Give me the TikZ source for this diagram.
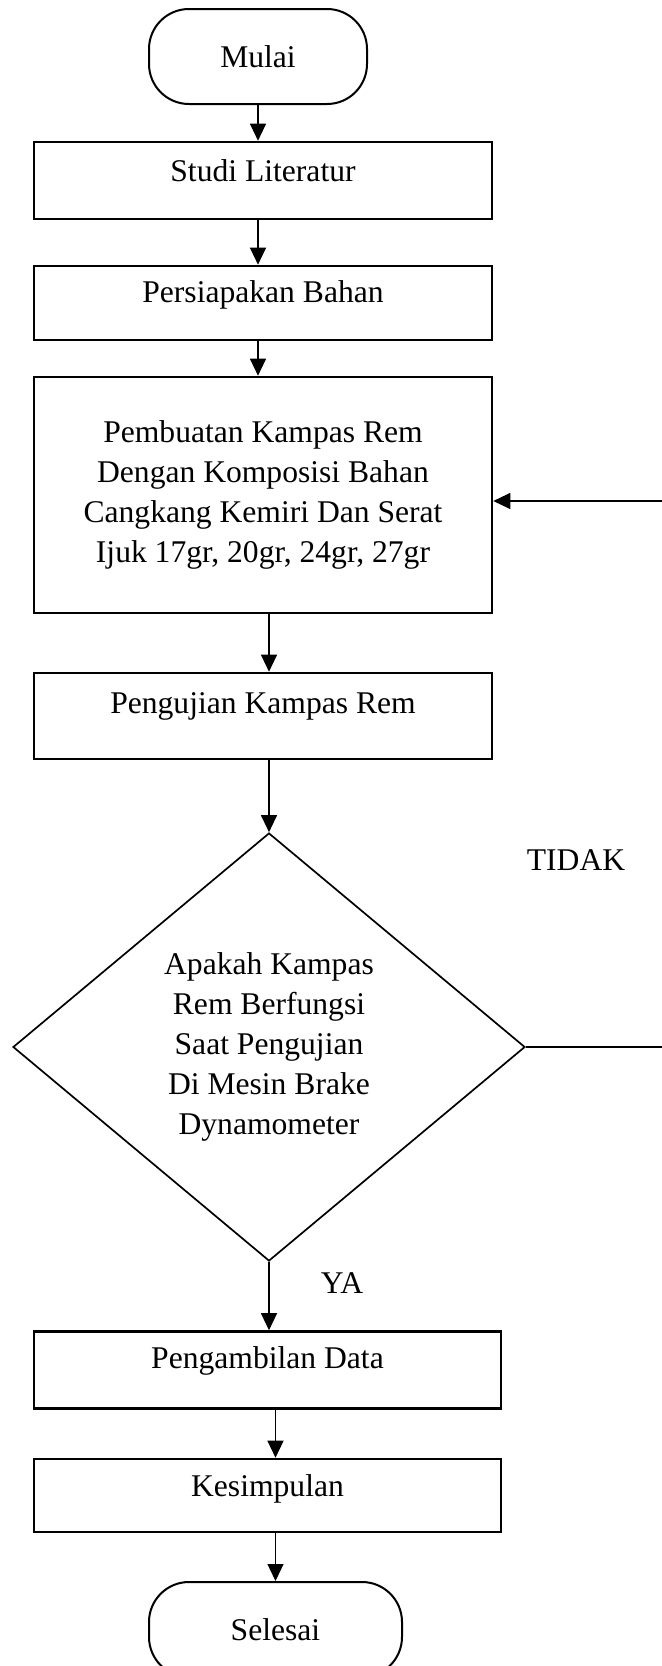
\documentclass[tikz,border=0pt]{standalone}
\usepackage{fontspec}
\setmainfont{Liberation Serif}
\usetikzlibrary{shapes.geometric,arrows.meta}

\begin{document}
\begin{tikzpicture}[x=0.5pt,y=-0.5pt,
  every node/.style={font=\fontsize{15.8}{20}\selectfont},
  terminal/.style={draw, line width=1pt, rectangle, rounded corners=20pt,
    minimum height=47.5pt, inner sep=0pt},
  box/.style={draw, line width=1.3pt, rectangle, align=center, inner sep=0pt,
    text height=11pt, text depth=6.5pt},
  decision/.style={draw, line width=0.85pt, diamond, align=center, inner sep=0pt,
    minimum width=256pt, minimum height=214pt},
  arr/.style={line width=0.6pt, -{Triangle[length=8.5pt,width=8pt]}}]

% Page
\useasboundingbox (0,0) rectangle (662,1666);
\clip (0,0) rectangle (662,1666);

% Nodes
\node[terminal, minimum width=109pt] (mulai) at (258,56.5) {Mulai};
\node[box, minimum width=229pt, minimum height=38.5pt, text depth=10.5pt] (studi) at (263,180.5) {Studi Literatur};
\node[box, minimum width=229pt, minimum height=37pt, text depth=12pt] (siap) at (263,303) {Persiapakan Bahan};
\node[box, minimum width=229pt, minimum height=118pt, text height=, text depth=] (buat) at (263,495)
  {Pembuatan Kampas Rem\\Dengan Komposisi Bahan\\Cangkang Kemiri Dan Serat\\Ijuk 17gr, 20gr, 24gr, 27gr};
\node[box, minimum width=229pt, minimum height=43pt, text depth=14pt] (uji) at (263,716) {Pengujian Kampas Rem};
\node[decision] (dec) at (269,1047)
  {Apakah Kampas\\Rem Berfungsi\\Saat Pengujian\\Di Mesin Brake\\Dynamometer};
\node[box, minimum width=233.5pt, minimum height=38.5pt, text depth=12.5pt] (ambil) at (267.5,1370) {Pengambilan Data};
\node[box, minimum width=233.5pt, minimum height=36.5pt, text depth=10pt] (simpul) at (267.5,1495.5) {Kesimpulan};
\node[terminal, minimum width=126.5pt] (selesai) at (275.5,1629.5) {Selesai};

% Labels
\node (tidak) at (576,860) {TIDAK};
\node (ya) at (342,1283) {YA};

% Lines
\draw[arr] (mulai.south) -- (mulai.south |- studi.north);
\draw[arr] (mulai.south |- studi.south) -- (mulai.south |- siap.north);
\draw[arr] (mulai.south |- siap.south) -- (mulai.south |- buat.north);
\draw[arr] (dec.north |- buat.south) -- (dec.north |- uji.north);
\draw[arr] (dec.north |- uji.south) -- (dec.north);
\draw[arr] (dec.south) -- (dec.south |- ambil.north);
\draw[arr] (selesai.north |- ambil.south) -- (selesai.north |- simpul.north);
\draw[arr] (selesai.north |- simpul.south) -- (selesai.north);
\draw[arr] (dec.east) -- ++(180,0) |- ([yshift=-3pt]buat.east);

\end{tikzpicture}
\end{document}
